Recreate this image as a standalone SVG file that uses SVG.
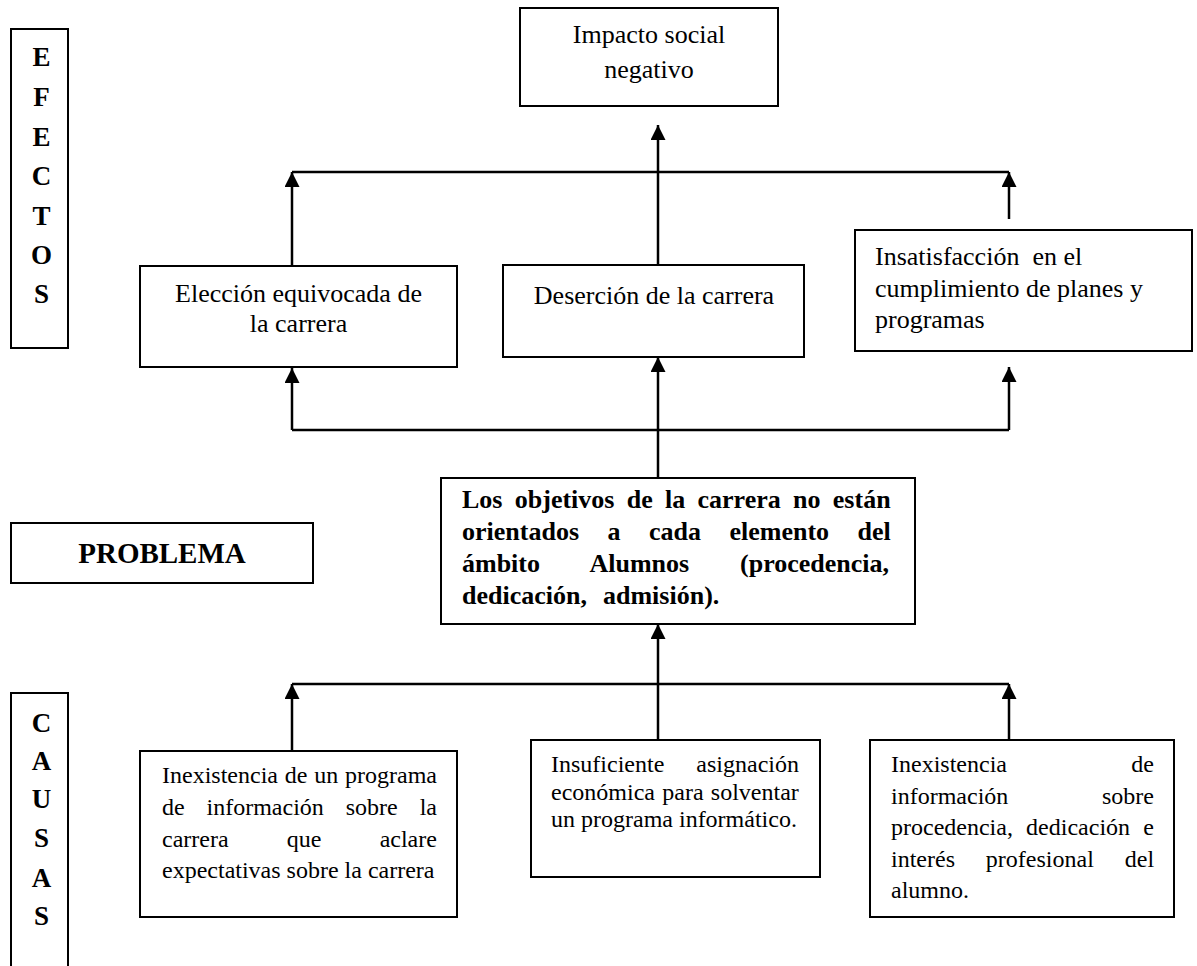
<svg xmlns="http://www.w3.org/2000/svg" width="1197" height="966" viewBox="0 0 1197 966">
<style>
.box{fill:#fff;stroke:#000;stroke-width:2}
.t{font-family:"Liberation Serif","Times New Roman",serif;font-size:26px;fill:#000}
.s{font-size:24px}
.b{font-weight:bold}
.c{text-anchor:middle}
.e{text-anchor:end}
.ln{fill:none;stroke:#000;stroke-width:2.5}
.pre{white-space:pre}
</style>
<defs>
<marker id="arr" viewBox="0 0 15 15" refX="15" refY="7.5" markerWidth="15" markerHeight="15" markerUnits="userSpaceOnUse" orient="auto">
<path d="M0,0 L15,7.5 L0,15 z" fill="#000"/>
</marker>
</defs>
<rect width="1197" height="966" fill="#fff"/>

<g id="connectors">
<path class="ln" d="M292,172 H1009"/>
<path class="ln" d="M292,265 V172" marker-end="url(#arr)"/>
<path class="ln" d="M658,265 V125" marker-end="url(#arr)"/>
<path class="ln" d="M1009,219 V172" marker-end="url(#arr)"/>
<path class="ln" d="M292,430 H1009"/>
<path class="ln" d="M292,430 V368" marker-end="url(#arr)"/>
<path class="ln" d="M658,478 V357" marker-end="url(#arr)"/>
<path class="ln" d="M1009,430 V367" marker-end="url(#arr)"/>
<path class="ln" d="M292,684 H1009"/>
<path class="ln" d="M292,751 V684" marker-end="url(#arr)"/>
<path class="ln" d="M658,740 V624" marker-end="url(#arr)"/>
<path class="ln" d="M1009,740 V684" marker-end="url(#arr)"/>
</g>

<g id="efectos">
<rect class="box" x="11" y="29" width="57" height="319"/>
<text class="t b c" x="41.5" font-size="27" style="font-size:27px">
<tspan x="41.5" y="66">E</tspan><tspan x="41.5" y="106">F</tspan><tspan x="41.5" y="146">E</tspan><tspan x="41.5" y="185">C</tspan><tspan x="41.5" y="225">T</tspan><tspan x="41.5" y="264">O</tspan><tspan x="41.5" y="303">S</tspan>
</text>
</g>

<g id="impacto">
<rect class="box" x="520" y="8" width="258" height="98"/>
<text class="t c"><tspan x="649" y="43">Impacto social</tspan><tspan x="649" y="78">negativo</tspan></text>
</g>

<g id="eleccion">
<rect class="box" x="140" y="266" width="317" height="101"/>
<text class="t c"><tspan x="298.5" y="302">Elección equivocada de</tspan><tspan x="298.5" y="332">la carrera</tspan></text>
</g>

<g id="desercion">
<rect class="box" x="503" y="265" width="301" height="92"/>
<text class="t c" x="654" y="304">Deserción de la carrera</text>
</g>

<g id="insatisfaccion">
<rect class="box" x="855" y="230" width="337" height="121"/>
<text class="t pre" x="875" y="265">Insatisfacción  en el</text>
<text class="t" x="875" y="297">cumplimiento de planes y</text>
<text class="t" x="875" y="328">programas</text>
</g>

<g id="problema-label">
<rect class="box" x="11" y="523" width="302" height="60"/>
<text class="t b c" x="162" y="563" style="font-size:29px">PROBLEMA</text>
</g>

<g id="problema">
<rect class="box" x="441" y="478" width="474" height="146"/>
<text class="t b" x="462" y="508" word-spacing="5.8">Los objetivos de la carrera no están</text>
<text class="t b" x="462" y="540" word-spacing="22">orientados a cada elemento del</text>
<text class="t b" x="462" y="572" word-spacing="44.4">ámbito Alumnos (procedencia,</text>
<text class="t b" x="462" y="604">dedicación,<tspan x="603">admisión).</tspan></text>
</g>

<g id="causas">
<rect class="box" x="11" y="693" width="57" height="290"/>
<text class="t b c" style="font-size:27px">
<tspan x="41.5" y="732">C</tspan><tspan x="41.5" y="770">A</tspan><tspan x="41.5" y="808">U</tspan><tspan x="41.5" y="847">S</tspan><tspan x="41.5" y="887">A</tspan><tspan x="41.5" y="925">S</tspan>
</text>
</g>

<g id="causa1">
<rect class="box" x="140" y="751" width="317" height="166"/>
<text class="t s" x="162" y="783" word-spacing="0.8">Inexistencia de un programa</text>
<text class="t s" x="162" y="815" word-spacing="15.9">de información sobre la</text>
<text class="t s" x="162" y="846.5" word-spacing="52.2">carrera que aclare</text>
<text class="t s" x="162" y="878">expectativas sobre la carrera</text>
</g>

<g id="causa2">
<rect class="box" x="531" y="740" width="289" height="137"/>
<text class="t s" x="551" y="772">Insuficiente</text>
<text class="t s e" x="799" y="772">asignación</text>
<text class="t s" x="551" y="800" word-spacing="1.3">económica para solventar</text>
<text class="t s" x="551" y="827">un programa informático.</text>
</g>

<g id="causa3">
<rect class="box" x="870" y="740" width="304" height="177"/>
<text class="t s" x="891" y="772">Inexistencia</text>
<text class="t s e" x="1154" y="772">de</text>
<text class="t s" x="891" y="803.5">información</text>
<text class="t s e" x="1154" y="803.5">sobre</text>
<text class="t s" x="891" y="835" word-spacing="7.2">procedencia, dedicación e</text>
<text class="t s" x="891" y="866.5" word-spacing="24.9">interés profesional del</text>
<text class="t s" x="891" y="898">alumno.</text>
</g>
</svg>
